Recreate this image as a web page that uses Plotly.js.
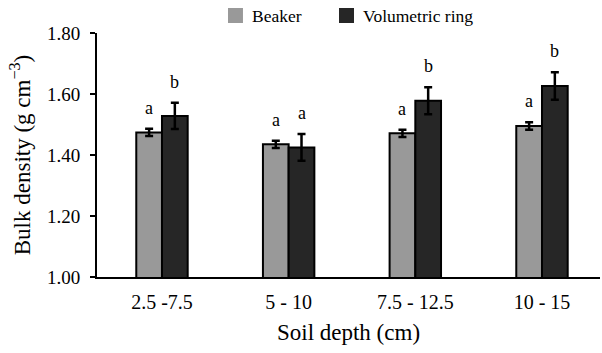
<!DOCTYPE html>
<html>
<head>
<meta charset="utf-8">
<script src="https://cdn.plot.ly/plotly-3.0.1.min.js"></script>
<style>
  html, body { margin: 0; padding: 0; background: #fff; }
  #chart { width: 602px; height: 353px; }
</style>
</head>
<body>
<div id="chart"></div>
<script>
// Soil depth classes (cm)
const depths = ['2.5 -7.5', '5 - 10', '7.5 - 12.5', '10 - 15'];

// Mean bulk density (g cm-3) and standard errors per method
const beakerMean = [1.474, 1.435, 1.471, 1.495];
const beakerErr  = [0.012, 0.012, 0.012, 0.012];
const ringMean   = [1.528, 1.425, 1.578, 1.626];
const ringErr    = [0.043, 0.044, 0.044, 0.045];

// Significance letters
const beakerLetters = ['a', 'a', 'a', 'a'];
const ringLetters   = ['b', 'a', 'b', 'b'];

const methods = ['Beaker', 'Volumetric ring'];
const colors = ['#999999', '#262626'];

const serif = '"Liberation Serif", "Times New Roman", "DejaVu Serif", serif';

const barStyle = (color) => ({ color: color, line: { color: '#000', width: 2 } });
const errStyle = (arr) => ({ type: 'data', array: arr, visible: true, color: '#000', thickness: 2.5, width: 4 });

const traces = [
  {
    type: 'bar', name: methods[0], x: depths, y: beakerMean,
    marker: barStyle(colors[0]), error_y: errStyle(beakerErr)
  },
  {
    type: 'bar', name: methods[1], x: depths, y: ringMean,
    marker: barStyle(colors[1]), error_y: errStyle(ringErr)
  }
];

const letterFont = { family: serif, size: 18, color: '#000' };
const annotations = [];
depths.forEach((d, i) => {
  annotations.push({
    x: d, y: beakerMean[i] + beakerErr[i], xref: 'x', yref: 'y',
    text: beakerLetters[i], showarrow: false, xshift: -13, yshift: 9,
    yanchor: 'bottom', font: letterFont
  });
  annotations.push({
    x: d, y: ringMean[i] + ringErr[i], xref: 'x', yref: 'y',
    text: ringLetters[i], showarrow: false, xshift: 13, yshift: 9,
    yanchor: 'bottom', font: letterFont
  });
});

// Legend drawn above the plot area: a filled square and a label per method
const legendX = [0.2604, 0.4811];   // left edge of each key square (paper units)
const keyW = 0.0298, keyTop = 1.1025, keyBottom = 1.041, keyMid = 1.0717;
const shapes = [];
methods.forEach((m, k) => {
  shapes.push({
    type: 'rect', xref: 'paper', yref: 'paper',
    x0: legendX[k], x1: legendX[k] + keyW, y0: keyBottom, y1: keyTop,
    fillcolor: colors[k], line: { width: 0 }
  });
  annotations.push({
    xref: 'paper', yref: 'paper', x: legendX[k] + keyW + 0.0135, y: keyMid,
    xanchor: 'left', yanchor: 'middle', text: m, showarrow: false,
    font: { family: serif, size: 17.5, color: '#000' }
  });
});

const layout = {
  width: 602, height: 353,
  margin: { l: 97, r: 2, t: 33, b: 76 },
  paper_bgcolor: '#fff', plot_bgcolor: '#fff',
  font: { family: serif, color: '#000', size: 18 },
  barmode: 'group', bargap: 0.594, bargroupgap: 0,
  showlegend: false,
  xaxis: {
    type: 'category', range: [-0.513, 3.458],
    showline: true, linecolor: '#000', linewidth: 2,
    ticks: '', showgrid: false, zeroline: false,
    tickfont: { family: serif, size: 20, color: '#000' },
    ticklabelstandoff: 6,
    title: { text: 'Soil depth (cm)', font: { family: serif, size: 23, color: '#000' }, standoff: 12 }
  },
  yaxis: {
    range: [1.0, 1.8], dtick: 0.2, tick0: 1.0, tickformat: '.2f',
    showline: true, linecolor: '#000', linewidth: 2,
    ticks: 'outside', ticklen: 5, tickwidth: 2, tickcolor: '#000',
    showgrid: false, zeroline: false,
    tickfont: { family: serif, size: 19, color: '#000' },
    ticklabelstandoff: 6,
    title: { text: 'Bulk density (g cm<sup>−3</sup>)', font: { family: serif, size: 23, color: '#000' }, standoff: 10 }
  },
  shapes: shapes,
  annotations: annotations
};

Plotly.newPlot('chart', traces, layout, { displayModeBar: false, staticPlot: true });
</script>
</body>
</html>
